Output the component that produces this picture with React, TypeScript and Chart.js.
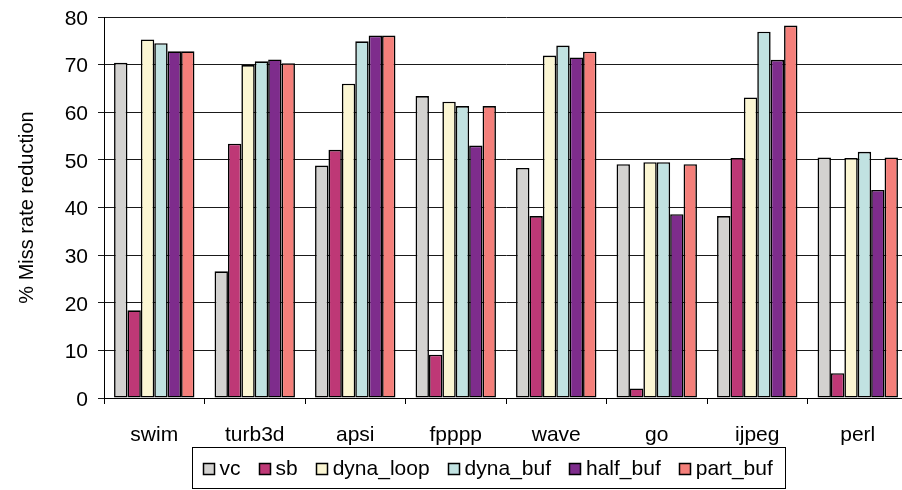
import React, { useEffect, useRef } from "react";
import { Chart, registerables } from "chart.js";

Chart.register(...registerables);

const categories = ["swim", "turb3d", "apsi", "fpppp", "wave", "go", "ijpeg", "perl"];
const seriesNames = ["vc", "sb", "dyna_loop", "dyna_buf", "half_buf", "part_buf"];
const vc = [70.4, 26.6, 48.8, 63.4, 48.3, 49.1, 38.2, 50.5];
const sb = [18.4, 53.4, 52.1, 9.1, 38.2, 2.0, 50.4, 5.2];
const dynaLoop = [75.3, 69.9, 66.0, 62.2, 71.9, 49.5, 63.1, 50.4];
const dynaBuf = [74.5, 70.7, 74.9, 61.3, 74.0, 49.5, 76.9, 51.7];
const halfBuf = [72.8, 71.1, 76.1, 53.0, 71.5, 38.6, 71.0, 43.7];
const partBuf = [72.8, 70.3, 76.1, 61.3, 72.7, 49.1, 78.2, 50.5];
const seriesColors = ["#D3D2D0", "#BE3876", "#FBF6D3", "#C1E2E1", "#7E2C8C", "#F47F7A"];
const yTicks = [0, 10, 20, 30, 40, 50, 60, 70, 80];

const FONT = '"Liberation Sans", Arial, sans-serif';

const legendPlugin = {
  id: "boxLegend",
  afterDraw(chart: any) {
    const ctx = chart.ctx;
    const ds = chart.data.datasets;
    ctx.save();
    ctx.font = `21px ${FONT}`;
    const box = 11;
    const gapBoxText = 6;
    const itemGap = 18;
    const widths = ds.map((d: any) => ctx.measureText(d.label).width);
    let total = 0;
    widths.forEach((w: number, i: number) => {
      total += box + gapBoxText + w + (i < widths.length - 1 ? itemGap : 0);
    });
    const padL = 9;
    const padR = 14;
    const boxW = Math.round(total + padL + padR);
    const center = 488.5;
    const left = Math.round(center - boxW / 2) + 0.5;
    const top = 447.5;
    const bottom = 488.5;
    ctx.strokeStyle = "#000";
    ctx.lineWidth = 1;
    ctx.strokeRect(left, top, boxW, bottom - top);
    const cy = (top + bottom) / 2;
    let x = Math.round(left + padL) + 0.5;
    ds.forEach((d: any, i: number) => {
      const bx = Math.round(x) + 0.5;
      const by = Math.round(cy - box / 2) + 0.5;
      ctx.fillStyle = d.backgroundColor;
      ctx.fillRect(bx, by, box, box);
      ctx.lineWidth = 1.5;
      ctx.strokeStyle = "#000";
      ctx.strokeRect(bx, by, box, box);
      ctx.fillStyle = "#000";
      ctx.textBaseline = "middle";
      ctx.textAlign = "left";
      ctx.fillText(d.label, x + box + gapBoxText, cy + 1);
      x += box + gapBoxText + widths[i] + itemGap;
    });
    ctx.restore();
  },
};

export default function App() {
  const ref = useRef<HTMLCanvasElement | null>(null);
  useEffect(() => {
    if (!ref.current) return;
    const values = [vc, sb, dynaLoop, dynaBuf, halfBuf, partBuf];
    const chart = new Chart(ref.current, {
      type: "bar",
      data: {
        labels: categories,
        datasets: seriesNames.map((name, i) => ({
          label: name,
          data: values[i],
          backgroundColor: seriesColors[i],
          borderColor: "#000",
          borderWidth: 1.6,
          borderSkipped: false,
          categoryPercentage: 0.8,
          barPercentage: 1.0,
        })),
      },
      options: {
        animation: false,
        responsive: false,
        devicePixelRatio: 1,
        layout: { padding: { top: 17, right: 7, bottom: 42, left: 0 } },
        plugins: {
          legend: { display: false },
          tooltip: { enabled: false },
        },
        scales: {
          x: {
            grid: { display: true, drawOnChartArea: false, drawTicks: true, tickLength: 6, color: "#000", offset: true },
            border: { display: true, color: "#000", width: 1 },
            ticks: { color: "#000", font: { family: FONT, size: 21 }, padding: 19, maxRotation: 0 },
            afterFit(scale: any) {
              scale.height = 50;
              scale.paddingLeft = 0;
              scale.paddingRight = 0;
            },
          },
          y: {
            min: 0,
            max: 80,
            afterBuildTicks(scale: any) {
              scale.ticks = yTicks.map((v) => ({ value: v }));
            },
            grid: { color: "#1a1a1a", lineWidth: 1, drawTicks: true, tickLength: 6 },
            border: { display: true, color: "#000", width: 1 },
            ticks: { color: "#000", font: { family: FONT, size: 21 }, padding: 10, labelOffset: 2 },
            title: {
              display: true,
              text: "% Miss rate reduction",
              color: "#000",
              font: { family: FONT, size: 20 },
              padding: { top: 15, bottom: 0 },
            },
            afterFit(scale: any) {
              scale.width = 104;
              scale.paddingTop = 0;
              scale.paddingBottom = 0;
            },
          },
        },
      },
      plugins: [legendPlugin],
    });
    return () => chart.destroy();
  }, []);
  return (
    <div style={{ position: "fixed", left: 0, top: 0, width: 902, height: 490, overflow: "hidden", background: "#fff" }}>
      <canvas ref={ref} width={915} height={490} style={{ display: "block" }} />
    </div>
  );
}
